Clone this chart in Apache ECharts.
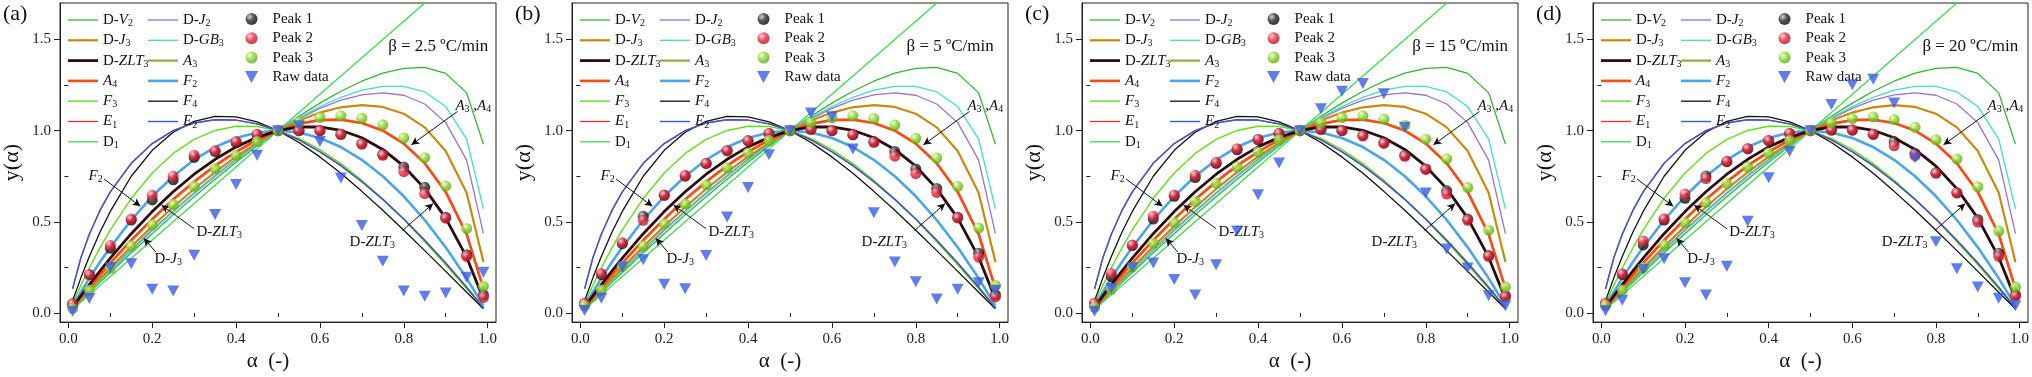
<!DOCTYPE html>
<html>
<head>
<meta charset="utf-8">
<title>y(alpha) master plots</title>
<script src="https://cdn.jsdelivr.net/npm/echarts@6/dist/echarts.min.js"></script>
<style>
html, body { margin: 0; padding: 0; background: #fff; }
#chart { width: 2032px; height: 377px; }
</style>
</head>
<body>
<div id="chart"></div>
<script>
// conversion grid of the model curves and of the measured points
var alphaFit = [0.01, 0.03, 0.05, 0.075, 0.1, 0.15, 0.2, 0.25, 0.3, 0.35, 0.4, 0.45, 0.5, 0.55, 0.6, 0.65, 0.7, 0.75, 0.8, 0.85, 0.9, 0.95, 0.99];
var alphaPts = [0.01, 0.05, 0.1, 0.15, 0.2, 0.25, 0.3, 0.35, 0.4, 0.45, 0.5, 0.55, 0.6, 0.65, 0.7, 0.75, 0.8, 0.85, 0.9, 0.95, 0.99];

// model curves y(alpha), identical in every panel
var dV2 = [0.023, 0.067, 0.112, 0.167, 0.222, 0.330, 0.435, 0.538, 0.638, 0.734, 0.827, 0.916, 1.0, 1.079, 1.151, 1.216, 1.271, 1.315, 1.342, 1.347, 1.314, 1.207, 0.926];
var dJ2 = [0.024, 0.072, 0.119, 0.178, 0.235, 0.347, 0.456, 0.560, 0.660, 0.754, 0.843, 0.925, 1.0, 1.066, 1.122, 1.167, 1.196, 1.207, 1.194, 1.146, 1.044, 0.838, 0.435];
var dJ3 = [0.026, 0.076, 0.126, 0.187, 0.248, 0.364, 0.475, 0.581, 0.680, 0.772, 0.857, 0.933, 1.0, 1.056, 1.099, 1.128, 1.140, 1.130, 1.093, 1.018, 0.888, 0.660, 0.280];
var dGB3 = [0.024, 0.070, 0.117, 0.174, 0.231, 0.341, 0.449, 0.552, 0.652, 0.747, 0.838, 0.922, 1.0, 1.071, 1.132, 1.183, 1.222, 1.243, 1.243, 1.212, 1.132, 0.954, 0.571];
var dZLT3 = [0.032, 0.095, 0.156, 0.230, 0.301, 0.435, 0.556, 0.665, 0.761, 0.843, 0.911, 0.963, 1.0, 1.020, 1.021, 1.002, 0.961, 0.897, 0.805, 0.682, 0.520, 0.306, 0.076];
var aN = [0.029, 0.085, 0.141, 0.208, 0.274, 0.399, 0.515, 0.623, 0.720, 0.808, 0.884, 0.949, 1.0, 1.037, 1.058, 1.060, 1.042, 1.0, 0.929, 0.821, 0.664, 0.432, 0.133];
var eN = [0.133, 0.304, 0.432, 0.561, 0.664, 0.821, 0.929, 1.0, 1.042, 1.060, 1.058, 1.037, 1.0, 0.949, 0.884, 0.808, 0.720, 0.623, 0.515, 0.399, 0.274, 0.141, 0.029];
var f2 = [0.040, 0.116, 0.190, 0.278, 0.360, 0.510, 0.640, 0.750, 0.840, 0.910, 0.960, 0.990, 1.0, 0.990, 0.960, 0.910, 0.840, 0.750, 0.640, 0.510, 0.360, 0.190, 0.040];
var f3 = [0.053, 0.153, 0.247, 0.356, 0.456, 0.629, 0.768, 0.875, 0.952, 1.001, 1.024, 1.023, 1.0, 0.957, 0.896, 0.819, 0.728, 0.625, 0.512, 0.391, 0.264, 0.133, 0.027];
var f4 = [0.067, 0.194, 0.310, 0.441, 0.557, 0.750, 0.892, 0.991, 1.051, 1.078, 1.075, 1.048, 1.0, 0.935, 0.856, 0.766, 0.667, 0.563, 0.454, 0.342, 0.228, 0.114, 0.023];
var d1 = [0.02, 0.06, 0.1, 0.15, 0.2, 0.3, 0.4, 0.5, 0.6, 0.7, 0.8, 0.9, 1.0, 1.1, 1.2, 1.3, 1.4, 1.5, 1.6, 1.7, 1.8, 1.9, 1.98];

// measured points, one row per heating rate
var tags = ['(a)', '(b)', '(c)', '(d)'];
var rates = ['2.5', '5', '15', '20'];
var peak1 = [
    [0.05, 0.21, 0.355, 0.51, 0.62, 0.73, 0.853, 0.885, 0.935, 0.978, 1.0, 1.0, 1.0, 0.98, 0.93, 0.87, 0.80, 0.689, 0.525, 0.32, 0.10],
    [0.054, 0.21, 0.38, 0.53, 0.645, 0.75, 0.82, 0.89, 0.944, 0.985, 1.0, 1.007, 1.0, 0.977, 0.94, 0.886, 0.79, 0.683, 0.525, 0.328, 0.10],
    [0.054, 0.2, 0.37, 0.515, 0.64, 0.743, 0.82, 0.895, 0.95, 0.985, 1.0, 1.007, 1.0, 0.975, 0.935, 0.865, 0.79, 0.67, 0.515, 0.315, 0.095],
    [0.054, 0.21, 0.373, 0.51, 0.629, 0.751, 0.83, 0.9, 0.945, 0.985, 1.0, 1.003, 1.003, 0.98, 0.94, 0.875, 0.77, 0.66, 0.513, 0.328, 0.10]
];
var peak2 = [
    [0.05, 0.21, 0.37, 0.515, 0.645, 0.75, 0.865, 0.89, 0.94, 0.98, 1.0, 1.0, 1.0, 0.98, 0.925, 0.865, 0.775, 0.655, 0.52, 0.31, 0.085],
    [0.054, 0.216, 0.385, 0.508, 0.647, 0.755, 0.82, 0.89, 0.944, 0.985, 1.0, 1.007, 1.0, 0.977, 0.935, 0.86, 0.764, 0.661, 0.521, 0.306, 0.088],
    [0.054, 0.216, 0.373, 0.531, 0.647, 0.755, 0.827, 0.901, 0.953, 0.985, 1.0, 1.007, 1.0, 0.97, 0.93, 0.859, 0.787, 0.652, 0.508, 0.31, 0.088],
    [0.054, 0.215, 0.395, 0.517, 0.652, 0.737, 0.832, 0.901, 0.946, 0.985, 1.0, 1.003, 1.003, 0.98, 0.917, 0.863, 0.766, 0.658, 0.499, 0.31, 0.092]
];
var peak3 = [
    [0.025, 0.124, 0.245, 0.367, 0.484, 0.595, 0.695, 0.793, 0.865, 0.94, 1.0, 1.045, 1.072, 1.081, 1.068, 1.032, 0.96, 0.852, 0.696, 0.464, 0.146],
    [0.04, 0.126, 0.255, 0.368, 0.49, 0.598, 0.703, 0.796, 0.877, 0.946, 1.0, 1.045, 1.07, 1.081, 1.066, 1.031, 0.958, 0.85, 0.694, 0.466, 0.151],
    [0.031, 0.13, 0.252, 0.382, 0.496, 0.612, 0.711, 0.8, 0.883, 0.95, 1.0, 1.043, 1.072, 1.081, 1.063, 1.03, 0.953, 0.845, 0.688, 0.454, 0.142],
    [0.04, 0.126, 0.247, 0.373, 0.496, 0.607, 0.71, 0.8, 0.877, 0.946, 1.0, 1.043, 1.066, 1.075, 1.061, 1.018, 0.95, 0.845, 0.692, 0.449, 0.142]
];
var raw = [
    [0.01, 0.08, 0.25, 0.27, 0.13, 0.12, 0.317, 0.54, 0.705, 0.865, 1.0, 1.027, 0.94, 0.74, 0.48, 0.284, 0.12, 0.092, 0.11, 0.196, 0.223],
    [0.013, 0.081, 0.252, 0.292, 0.157, 0.133, 0.315, 0.526, 0.688, 0.868, 1.0, 1.097, 1.076, 0.899, 0.55, 0.279, 0.171, 0.076, 0.13, 0.166, 0.124],
    [0.009, 0.135, 0.25, 0.274, 0.184, 0.099, 0.265, 0.449, 0.649, 0.823, 1.0, 1.12, 1.216, 1.259, 1.202, 1.018, 0.658, 0.351, 0.247, 0.094, 0.039],
    [0.012, 0.07, 0.238, 0.297, 0.166, 0.099, 0.256, 0.503, 0.742, 0.886, 1.0, 1.144, 1.252, 1.282, 1.151, 0.85, 0.391, 0.243, 0.142, 0.081, 0.039]
];

var xMajor = [0, 0.2, 0.4, 0.6, 0.8, 1.0];
var xMinor = [0.1, 0.3, 0.5, 0.7, 0.9];
var yMajor = [0, 0.5, 1.0, 1.5];
var yMinor = [0.25, 0.75, 1.25];

var FONT = 'Liberation Serif';
var offsets = [0, 512, 1022, 1533];

// curves in drawing order
var curves = [
    { name: 'D1', data: d1, color: '#3cdc50', width: 1.3 },
    { name: 'D-V2', data: dV2, color: '#2eb82e', width: 1.3 },
    { name: 'D-J2', data: dJ2, color: '#9b6fd6', width: 1.3 },
    { name: 'D-GB3', data: dGB3, color: '#3fe0c5', width: 1.3 },
    { name: 'F3', data: f3, color: '#66dd1a', width: 1.4 },
    { name: 'F4', data: f4, color: '#111111', width: 1.3 },
    { name: 'E1', data: eN, color: '#ff2a2a', width: 1.3 },
    { name: 'E2', data: eN, color: '#2f5fcf', width: 1.4 },
    { name: 'A3', data: aN, color: '#a3a23a', width: 2.2 },
    { name: 'D-J3', data: dJ3, color: '#c98a0c', width: 2.2 },
    { name: 'F2', data: f2, color: '#4aa6e6', width: 2.6 },
    { name: 'A4', data: aN, color: '#ff4a14', width: 2.6 },
    { name: 'D-ZLT3', data: dZLT3, color: '#2a0d12', width: 2.8 }
];

var labels = {
    'D-V2': 'D-{it|V}{sub|2}', 'D-J2': 'D-{it|J}{sub|2}', 'D-J3': 'D-{it|J}{sub|3}',
    'D-GB3': 'D-{it|GB}{sub|3}', 'D-ZLT3': 'D-{it|ZLT}{sub|3}', 'A3': '{it|A}{sub|3}',
    'A4': '{it|A}{sub|4}', 'F2': '{it|F}{sub|2}', 'F3': '{it|F}{sub|3}', 'F4': '{it|F}{sub|4}',
    'E1': '{it|E}{sub|1}', 'E2': '{it|E}{sub|2}', 'D1': 'D{sub|1}'
};

var rich = {
    it: { fontFamily: FONT, fontStyle: 'italic', fontSize: 15, color: '#111', lineHeight: 18 },
    sub: { fontFamily: FONT, fontSize: 10, color: '#111', lineHeight: 11, padding: [7, 0, 0, 0] }
};

// arrow annotations, in data units
var notes = [
    { text: '{it|F}{sub|2}', at: [0.065, 0.752], from: [0.085, 0.735], to: [0.172, 0.585] },
    { text: 'D-{it|ZLT}{sub|3}', at: [0.36, 0.443], from: [0.30, 0.462], to: [0.222, 0.592] },
    { text: 'D-{it|J}{sub|3}', at: [0.238, 0.297], from: [0.208, 0.335], to: [0.18, 0.41] },
    { text: 'D-{it|ZLT}{sub|3}', at: [0.725, 0.39], from: [0.797, 0.452], to: [0.87, 0.6] },
    { text: '{it|A}{sub|3} ,{it|A}{sub|4}', at: [0.966, 1.137], from: [0.928, 1.105], to: [0.818, 0.922] }
];

function pairs(xs, ys) {
    return xs.map(function (x, i) { return [x, ys[i]]; });
}

function sphere(light, mid, dark) {
    return {
        type: 'radial', x: 0.35, y: 0.32, r: 0.75,
        colorStops: [
            { offset: 0, color: light },
            { offset: 0.45, color: mid },
            { offset: 1, color: dark }
        ]
    };
}

function legendText(name) {
    return labels[name] || name;
}

// legend entry drawn as a plain stroke of the curve's width
function lineItem(name) {
    var c = curves.filter(function (d) { return d.name === name; })[0];
    return { name: name, icon: 'path://M0,0H30V' + c.width + 'H0Z' };
}

var option = {
    animation: false,
    textStyle: { fontFamily: FONT, color: '#111' },
    grid: [], xAxis: [], yAxis: [], legend: [], series: [], graphic: []
};

for (var k = 0; k < 4; k++) {
    var off = offsets[k];
    var xi = 2 * k;
    option.grid.push({
        left: 60 + off, top: 3, width: 436, height: 325,
        show: true, borderColor: '#222', borderWidth: 1
    });
    option.xAxis.push({
        gridIndex: k, type: 'value', min: -0.02, max: 1.02,
        axisLine: { onZero: false, lineStyle: { color: '#222', width: 1 } },
        splitLine: { show: false },
        axisTick: { customValues: xMajor, length: 6, lineStyle: { color: '#222' } },
        axisLabel: {
            customValues: xMajor, margin: 9, fontFamily: FONT, fontSize: 15, color: '#222',
            formatter: function (v) { return v.toFixed(1); }
        },
        name: 'α  (-)', nameLocation: 'middle', nameGap: 22,
        nameTextStyle: { fontFamily: FONT, fontSize: 21, color: '#111', padding: [0, 20, 0, 0] }
    });
    option.xAxis.push({
        gridIndex: k, type: 'value', min: -0.02, max: 1.02, position: 'bottom',
        axisLine: { show: false }, splitLine: { show: false }, axisLabel: { show: false },
        axisTick: { customValues: xMinor, length: 4, lineStyle: { color: '#222' } }
    });
    option.yAxis.push({
        gridIndex: k, type: 'value', min: -0.05, max: 1.7,
        axisLine: { onZero: false, lineStyle: { color: '#222', width: 1 } },
        splitLine: { show: false },
        axisTick: { customValues: yMajor, length: 6, lineStyle: { color: '#222' } },
        axisLabel: {
            customValues: yMajor, margin: 9, fontFamily: FONT, fontSize: 15, color: '#222',
            formatter: function (v) { return v.toFixed(1); }
        },
        name: 'y(α)', nameLocation: 'middle', nameGap: 37,
        nameTextStyle: { fontFamily: FONT, fontSize: 22, color: '#111' }
    });
    option.yAxis.push({
        gridIndex: k, type: 'value', min: -0.05, max: 1.7, position: 'left',
        axisLine: { show: false }, splitLine: { show: false }, axisLabel: { show: false },
        axisTick: { customValues: yMinor, length: 4, lineStyle: { color: '#222' } }
    });

    curves.forEach(function (c) {
        option.series.push({
            type: 'line', name: c.name, xAxisIndex: xi, yAxisIndex: xi,
            data: pairs(alphaFit, c.data), symbol: 'none', showSymbol: false,
            lineStyle: { color: c.color, width: c.width }, itemStyle: { color: c.color },
            silent: true, z: 2
        });
    });

    option.series.push({
        type: 'scatter', name: 'Peak 1', xAxisIndex: xi, yAxisIndex: xi,
        data: pairs(alphaPts, peak1[k]), symbol: 'circle', symbolSize: 11,
        itemStyle: { color: sphere('#c8c8c8', '#2a2a2a', '#000000') }, z: 5
    });
    option.series.push({
        type: 'scatter', name: 'Peak 2', xAxisIndex: xi, yAxisIndex: xi,
        data: pairs(alphaPts, peak2[k]), symbol: 'circle', symbolSize: 11,
        itemStyle: { color: sphere('#ffd6da', '#ee2a40', '#a8101e') }, z: 5
    });
    option.series.push({
        type: 'scatter', name: 'Peak 3', xAxisIndex: xi, yAxisIndex: xi,
        data: pairs(alphaPts, peak3[k]), symbol: 'circle', symbolSize: 11,
        itemStyle: { color: sphere('#efffd0', '#8ad82c', '#52a012') }, z: 5
    });
    option.series.push({
        type: 'scatter', name: 'Raw data', xAxisIndex: xi, yAxisIndex: xi,
        data: pairs(alphaPts, raw[k]), symbol: 'path://M0,0L12,0L6,11Z', symbolSize: [12, 11],
        itemStyle: { color: '#3a5ce4' }, z: 6
    });

    // arrows and their captions
    option.series.push({
        type: 'line', name: 'notes', xAxisIndex: xi, yAxisIndex: xi, data: [], silent: true, z: 7,
        markLine: {
            silent: true, symbol: ['none', 'arrow'], symbolSize: [6, 8],
            lineStyle: { color: '#111', width: 1, type: 'solid' },
            label: { show: false },
            data: notes.map(function (n) { return [{ coord: n.from }, { coord: n.to }]; })
        },
        markPoint: {
            silent: true, symbol: 'circle', symbolSize: 0,
            data: notes.map(function (n) {
                return {
                    coord: n.at,
                    label: {
                        show: true, position: 'inside', formatter: n.text,
                        fontFamily: FONT, fontSize: 15, color: '#111', lineHeight: 18, rich: rich
                    }
                };
            }).concat([{
                coord: [0.882, 1.46],
                label: {
                    show: true, position: 'inside', formatter: 'β = ' + rates[k] + ' ºC/min',
                    fontFamily: FONT, fontSize: 17, color: '#111'
                }
            }])
        }
    });

    var lt = { fontFamily: FONT, fontSize: 15, color: '#111', lineHeight: 18, rich: rich };
    option.legend.push({
        orient: 'vertical', left: 63 + off, top: 6, itemWidth: 30, itemHeight: 18, itemGap: 2.3,
        selectedMode: false, formatter: legendText, textStyle: lt,
        data: ['D-V2', 'D-J3', 'D-ZLT3', 'A4', 'F3', 'E1', 'D1'].map(lineItem)
    });
    option.legend.push({
        orient: 'vertical', left: 143 + off, top: 6, itemWidth: 30, itemHeight: 18, itemGap: 2.3,
        selectedMode: false, formatter: legendText, textStyle: lt,
        data: ['D-J2', 'D-GB3', 'A3', 'F2', 'F4', 'E2'].map(lineItem)
    });
    option.legend.push({
        orient: 'vertical', left: 240 + off, top: 5, itemWidth: 32, itemHeight: 12, itemGap: 1.3,
        selectedMode: false, textStyle: lt,
        data: ['Peak 1', 'Peak 2', 'Peak 3', 'Raw data']
    });

    option.graphic.push({
        type: 'text', left: 3 + off, top: 3,
        style: { text: tags[k], font: '22px "Liberation Serif"', fill: '#111' }
    });
}

var myChart = echarts.init(document.getElementById('chart'));
myChart.setOption(option);
window.addEventListener('resize', function () {
    myChart.resize();
});
</script>
</body>
</html>
